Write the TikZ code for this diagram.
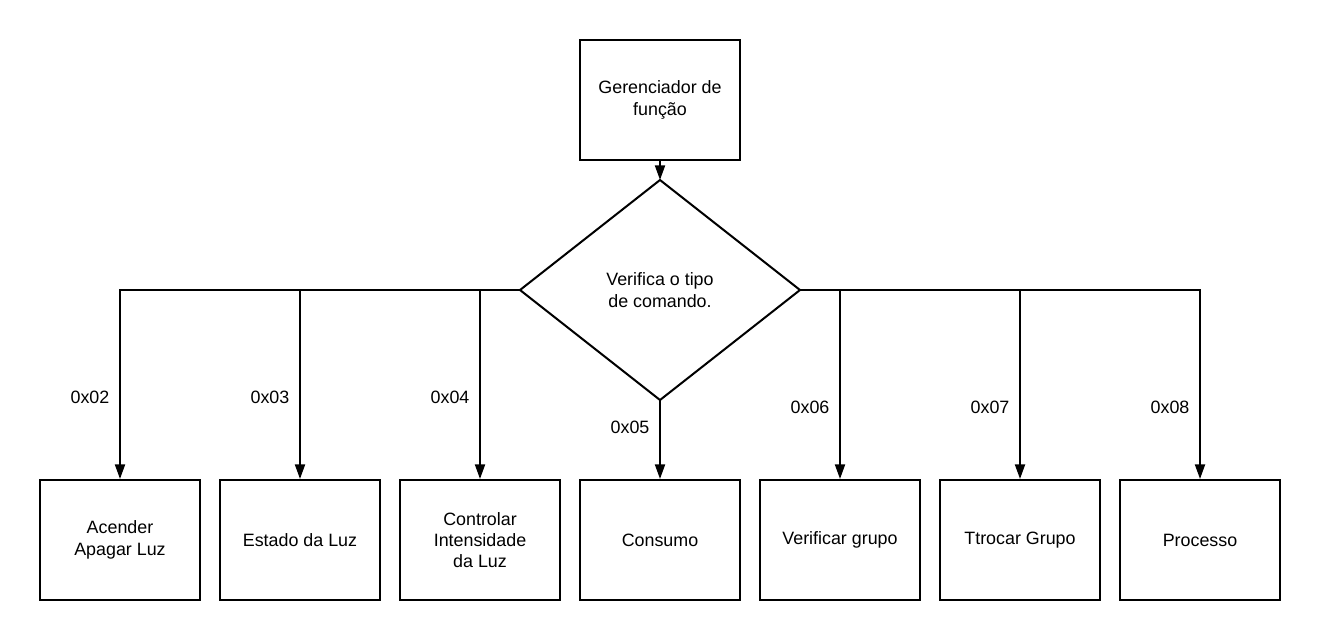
\documentclass[tikz,border=0pt]{standalone}
\usepackage{fontspec}
\setmainfont{Liberation Sans}
\usetikzlibrary{shapes.geometric,arrows.meta}
\begin{document}
\begin{tikzpicture}[x=0.75pt,y=-0.75pt,
  box/.style={draw,line width=1.5pt,minimum width=120pt,minimum height=90pt,align=center,font=\fontsize{13.4pt}{16pt}\selectfont,inner sep=0pt},
  conn/.style={line width=1.5pt,-{Triangle[width=7.5pt,length=11pt]}},
  lbl/.style={font=\fontsize{13.4pt}{16pt}\selectfont}]
\useasboundingbox (0,0) rectangle (1320,640);
\node[box] (top) at (660,100) {Gerenciador de\\função};
\coordinate (dT) at (660,180);
\coordinate (dB) at (660,400);
\coordinate (dL) at (520,290);
\coordinate (dR) at (800,290);
\draw[line width=1.5pt,line join=miter] (dT) -- (dR) -- (dB) -- (dL) -- cycle;
\node[align=center,font=\fontsize{13.4pt}{16pt}\selectfont] (dia) at (660,290) {Verifica o tipo\\de comando.};
\node[box] (b2) at (120,540) {Acender\\Apagar Luz};
\node[box] (b3) at (300,540) {Estado da Luz};
\node[box] (b4) at (480,540) {Controlar\\Intensidade\\da Luz};
\node[box] (b5) at (660,540) {Consumo};
\node[box] (b6) at (840,540) {Verificar grupo};
\node[box] (b7) at (1020,540) {Ttrocar Grupo};
\node[box] (b8) at (1200,540) {Processo};
\draw[conn] (top.south) -- (dT);
\draw[conn] (dL) -| (b2.north);
\draw[conn] (dL) -| (b3.north);
\draw[conn] (dL) -| (b4.north);
\draw[conn] (dB) -- (b5.north);
\draw[conn] (dR) -| (b6.north);
\draw[conn] (dR) -| (b7.north);
\draw[conn] (dR) -| (b8.north);
\node[lbl] (l2) at (90,397) {0x02};
\node[lbl] (l3) at (270,397) {0x03};
\node[lbl] (l4) at (450,397) {0x04};
\node[lbl] (l5) at (630,427) {0x05};
\node[lbl] (l6) at (810,407) {0x06};
\node[lbl] (l7) at (990,407) {0x07};
\node[lbl] (l8) at (1170,407) {0x08};
\end{tikzpicture}
\end{document}
